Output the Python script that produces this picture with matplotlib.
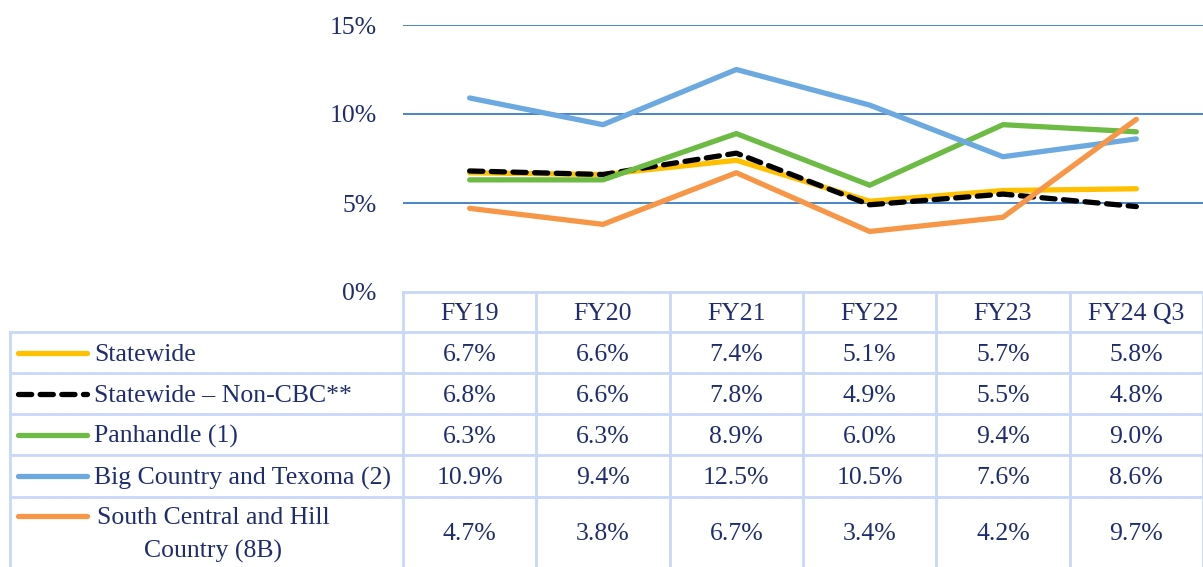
import matplotlib.pyplot as plt
from matplotlib.lines import Line2D

periods = ["FY19", "FY20", "FY21", "FY22", "FY23", "FY24 Q3"]
series_names = [
    "Statewide",
    "Statewide \u2013 Non-CBC**",
    "Panhandle (1)",
    "Big Country and Texoma (2)",
    "South Central and Hill\nCountry (8B)",
]
statewide = [6.7, 6.6, 7.4, 5.1, 5.7, 5.8]
statewide_non_cbc = [6.8, 6.6, 7.8, 4.9, 5.5, 4.8]
panhandle = [6.3, 6.3, 8.9, 6.0, 9.4, 9.0]
big_country = [10.9, 9.4, 12.5, 10.5, 7.6, 8.6]
south_central = [4.7, 3.8, 6.7, 3.4, 4.2, 9.7]
y_ticks = [0, 5, 10, 15]

series_values = [statewide, statewide_non_cbc, panhandle, big_country, south_central]
colors = ["#FFC000", "#000000", "#6DBB45", "#6CA9E0", "#F79646"]
styles = ["-", (0, (2.5, 1.6)), "-", "-", "-"]

W, H = 1203, 567
text_color = "#1F2D6E"
border = "#C9D7F8"
font = "Liberation Serif"
fs = 18.5
cap = fs * 100 / 72 * 0.66  # approx cap height in px

fig = plt.figure(figsize=(W / 100, H / 100), dpi=100)

# chart area (pixel layout -> figure fractions)
left, right, top, bottom = 403, 1203, 25, 292
ax = fig.add_axes([left / W, 1 - bottom / H, (right - left) / W, (bottom - top) / H])
ax.set_xlim(-0.5, len(periods) - 0.5)
ax.set_ylim(0, 15)
for t in y_ticks[1:]:
    ax.axhline(t, color="#3A7CC6", lw=1.3, zorder=1)
x = list(range(len(periods)))
for vals, c, ls in zip(series_values, colors, styles):
    ax.plot(x, vals, color=c, lw=3.8, ls=ls, solid_capstyle="round",
            dash_capstyle="round", zorder=3)
ax.set_xticks([])
ax.set_yticks(y_ticks)
ax.set_yticklabels([f"{t}%" for t in y_ticks], fontfamily=font, fontsize=fs, color=text_color)
ax.tick_params(axis="y", length=0, pad=19)
for s in ax.spines.values():
    s.set_visible(False)

# data table below the chart
tab = fig.add_axes([0, 0, 1, 1])
tab.set_xlim(0, W)
tab.set_ylim(H, 0)
tab.axis("off")

col_w = (right - left) / len(periods)
row_edges = [292, 332, 373, 414, 455, 497, 567]
tab_left = 10


def put(xp, yc, s, ha="center"):
    tab.text(xp, yc + cap / 2, s, ha=ha, va="baseline",
             fontfamily=font, fontsize=fs, color=text_color)


# header row
for i, p in enumerate(periods):
    put(left + col_w * (i + 0.5), (row_edges[0] + row_edges[1]) / 2, p)
# grid lines
tab.plot([left, right], [row_edges[0], row_edges[0]], color=border, lw=2)
for y in row_edges[1:-1]:
    tab.plot([tab_left, right], [y, y], color=border, lw=2)
tab.plot([tab_left, tab_left], [row_edges[1], H], color=border, lw=2)
for i in range(len(periods) + 1):
    xx = left + col_w * i
    tab.plot([xx, xx], [row_edges[0], H], color=border, lw=2)

for r, (name, vals, c, ls) in enumerate(zip(series_names, series_values, colors, styles)):
    y0, y1 = row_edges[r + 1], row_edges[r + 2]
    yc = (y0 + y1) / 2
    lines = name.split("\n")
    key_y = yc if len(lines) == 1 else yc - 16
    tab.add_line(Line2D([18, 87], [key_y, key_y], color=c, lw=3.8, ls=ls,
                        solid_capstyle="round", dash_capstyle="round"))
    if len(lines) == 1:
        put(94, yc, name, ha="left")
    else:
        put(213, yc - 16, lines[0])
        put(213, yc + 17, lines[1])
    for i, v in enumerate(vals):
        put(left + col_w * (i + 0.5), yc, f"{v:.1f}%")

fig.savefig("out.png", dpi=100)
